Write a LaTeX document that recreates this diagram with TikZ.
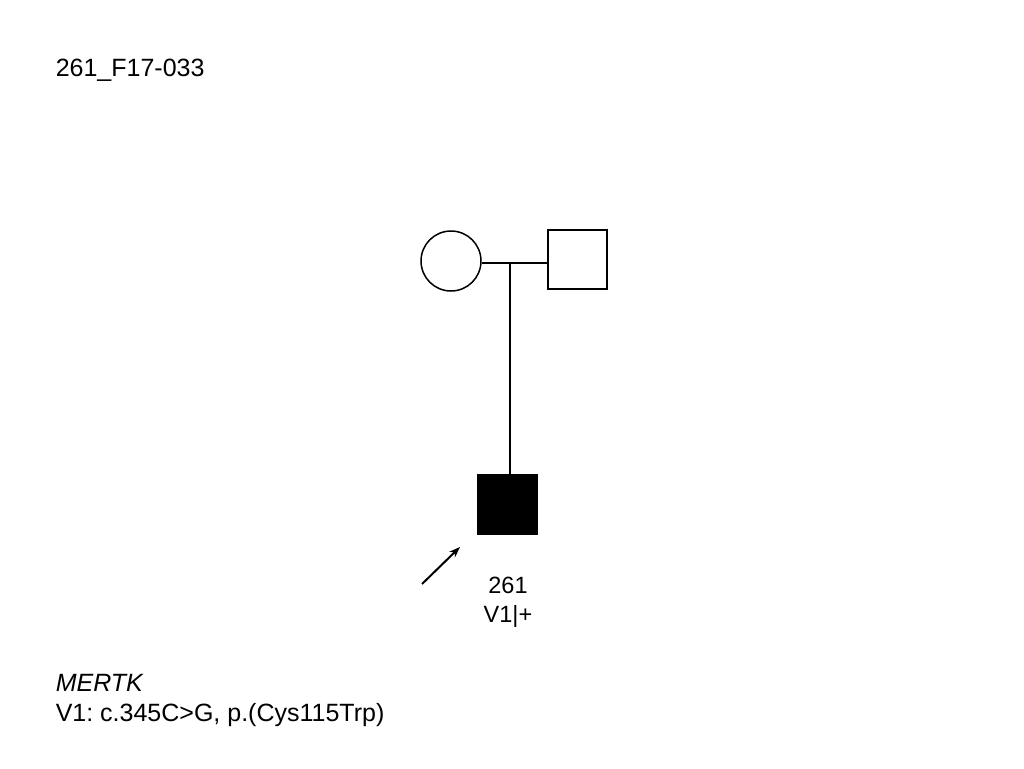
\documentclass[tikz,border=0pt]{standalone}
\usepackage{fontspec}
\setmainfont{Liberation Sans}
\usetikzlibrary{arrows.meta}
\frenchspacing
\begin{document}
\begin{tikzpicture}[x=1pt,y=-1pt,
  line width=1.5pt,
  person/.style={draw=black,line width=1.5pt,minimum size=59pt,inner sep=0pt},
  lbl/.style={inner sep=0pt,font=\fontsize{25}{30}\selectfont},
  plbl/.style={inner sep=0pt,font=\fontsize{23.5}{28}\selectfont}]
\useasboundingbox[fill=white] (0,0) rectangle (1024,768);
\node[lbl,anchor=base west] (title) at (55,77) {261\_F17-033};
\node[person,circle,minimum size=60pt] (mother) at (451,261) {};
\node[person,rectangle] (father) at (577.5,259.5) {};
\node[person,rectangle,fill=black] (child) at (507.5,504.5) {};
\coordinate (mid) at (510,263);
\draw (mother.east |- mid) -- (father.west |- mid);
\draw (mid) -- (mid |- child.north);
\coordinate (arrowtail) at (422,584);
\coordinate (arrowhead) at (460,547);
\draw[-{Stealth[length=11pt,width=8pt]},line width=2pt] (arrowtail) -- (arrowhead);
\node[plbl,anchor=base] (id) at (508,593) {261};
\node[plbl,anchor=base] (geno) at (508,622) {V1|+};
\node[lbl,anchor=base west] (gene) at (55,691) {\itshape MERTK};
\node[lbl,anchor=base west] (var) at (55,721) {V1: c.345C>G, p.(Cys115Trp)};
\end{tikzpicture}
\end{document}
